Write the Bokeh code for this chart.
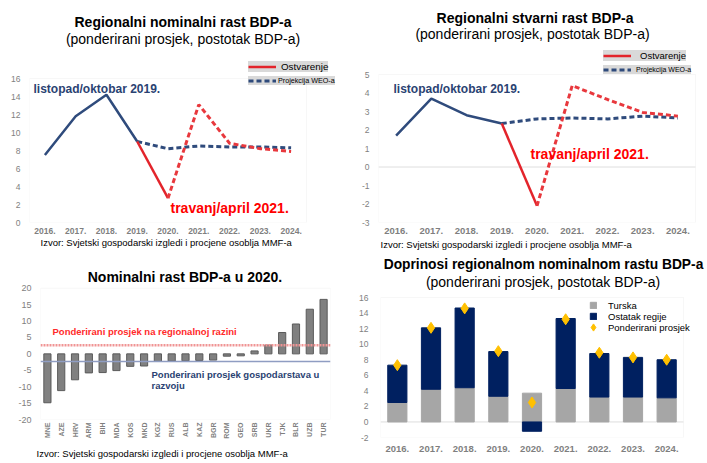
import math
import numpy as np
from bokeh.plotting import figure
from bokeh.models import (Range1d, FixedTicker, Label, Legend, LegendItem, Span,
                          BoxAnnotation, Title)
from bokeh.layouts import column, row
from bokeh.embed import file_html
from bokeh.resources import INLINE

FONT = "Liberation Sans"

# ---------------- data ----------------
years = ["2016.", "2017.", "2018.", "2019.", "2020.", "2021.", "2022.", "2023.", "2024."]

# Regional nominal GDP growth (weighted average, %)
nom_oct19_hist = [7.5, 11.8, 14.2, 9.0]            # 2016-2019 (Oct 2019 WEO)
nom_oct19_proj = [9.0, 8.2, 8.5, 8.4, 8.4, 8.3]    # 2019-2024 projection (Oct 2019)
nom_apr21_hist = [9.0, 2.7]                         # 2019-2020 outturn (Apr 2021)
nom_apr21_proj = [2.7, 13.1, 8.8, 8.2, 7.9]         # 2020-2024 projection (Apr 2021)

# Regional real GDP growth (weighted average, %)
real_oct19_hist = [1.7, 3.7, 2.8, 2.35]
real_oct19_proj = [2.35, 2.6, 2.65, 2.6, 2.75, 2.65]
real_apr21_hist = [2.35, -2.1]
real_apr21_proj = [-2.1, 4.4, 3.65, 2.95, 2.75]

# Nominal GDP growth in 2020 by country
countries = ["MNE", "AZE", "HRV", "ARM", "BIH", "MDA", "KOS", "MKD", "KGZ", "RUS", "ALB",
             "KAZ", "BGR", "ROM", "GEO", "SRB", "UKR", "TJK", "BLR", "UZB", "TUR"]
growth_2020 = [-14.9, -11.2, -7.9, -5.8, -5.7, -5.1, -3.8, -3.7, -2.3, -2.2, -2.1,
               -2.0, -1.9, -0.7, -0.6, 0.9, 2.7, 6.5, 9.1, 13.6, 16.6]
regional_avg_2020 = 2.6
emde_avg_2020 = -2.3

# Contributions to regional nominal growth
turkey_contrib = [2.5, 4.2, 4.4, 3.3, 3.7, 4.3, 3.2, 3.2, 3.1]
rest_contrib = [4.8, 7.9, 10.25, 5.75, -1.2, 9.0, 5.6, 5.1, 4.9]
weighted_avg = [7.3, 12.1, 14.6, 9.1, 2.5, 13.2, 8.9, 8.3, 8.0]

SOURCE = "Izvor: Svjetski gospodarski izgledi i procjene osoblja MMF-a"
SUB = "(ponderirani prosjek, postotak BDP-a)"

NAVY = "#2f4b7c"
NAVY_TXT = "#2a4272"
RED = "#e3242b"
RED_D = "#e8383d"


class Panel:
    """A figure whose frame extends beyond the visible plot box so that
    titles / legends drawn in screen units are not clipped."""

    def __init__(self, labels, yr, yticks, origin, size, borders, box,
                 xfs, yfs, xstand, ystand):
        ox, oy = origin
        w, h = size
        ml, mr, mt, mb = borders
        bl, br, bt, bb = box
        self.FL, self.FB = ox + ml, oy + h - mb
        FR, FT = ox + w - mr, oy + mt
        n = len(labels)
        self.x0, self.x1 = -0.5, n - 0.5
        self.y0, self.y1 = yr
        sx = (br - bl) / (self.x1 - self.x0)
        sy = (bb - bt) / (self.y1 - self.y0)
        xr = Range1d(self.x0 - (bl - self.FL) / sx, self.x1 + (FR - br) / sx)
        yrng = Range1d(self.y0 - (self.FB - bb) / sy, self.y1 + (bt - FT) / sy)
        p = figure(x_range=xr, y_range=yrng, width=w, height=h, title=None,
                   output_backend="svg", toolbar_location=None,
                   min_border_left=ml, min_border_right=mr,
                   min_border_top=mt, min_border_bottom=mb)
        p.frame_align = False
        p.xgrid.visible = False
        p.ygrid.visible = False
        p.outline_line_color = None
        p.background_fill_color = "white"
        p.border_fill_color = "white"
        p.add_layout(BoxAnnotation(left=self.x0, right=self.x1, bottom=self.y0, top=self.y1,
                                   fill_alpha=0, line_color="#e4e4e4", line_width=1,
                                   level="underlay"))
        p.xaxis.ticker = FixedTicker(ticks=list(range(n)))
        p.xaxis.major_label_overrides = {i: lab for i, lab in enumerate(labels)}
        p.yaxis.ticker = FixedTicker(ticks=yticks)
        p.yaxis.major_label_overrides = {v: str(v) for v in yticks}
        for ax, fs, st in ((p.xaxis[0], xfs, xstand), (p.yaxis[0], yfs, ystand)):
            ax.axis_line_color = None
            ax.major_tick_line_color = None
            ax.minor_tick_line_color = None
            ax.major_tick_out = 0
            ax.major_tick_in = 0
            ax.major_label_text_color = "#7f7f7f"
            ax.major_label_text_font = FONT
            ax.major_label_text_font_size = fs
            ax.major_label_standoff = st
        p.xaxis.major_label_text_font_style = "bold"
        self.p = p

    def text(self, X, Y, text, size, color="#000000", bold=False, align="left"):
        self.p.add_layout(Label(x=X - self.FL, y=self.FB - Y, x_units="screen", y_units="screen",
                                text=text, text_font=FONT, text_font_size=size,
                                text_color=color, text_font_style="bold" if bold else "normal",
                                text_align=align, text_baseline="middle"))

    def zero_line(self):
        self.p.segment(x0=self.x0, x1=self.x1, y0=0, y1=0, line_color="#dedede", line_width=1,
                       level="underlay")

    def legend(self, items, X, Ybottom, **kw):
        leg = Legend(items=items, location=(X - self.FL, self.FB - Ybottom),
                     border_line_color=None, spacing=0, margin=0,
                     label_text_font=FONT, label_text_color="#000000", **kw)
        self.p.add_layout(leg)


def line_chart(hist_b, proj_b, hist_r, proj_r, yr, ticks, origin, size, borders, box, xfs,
               title, title_c, sub_c, lab1, lab2, leg_x, leg_yb, leg_fs, leg_st, zero):
    P = Panel(years, yr, ticks, origin, size, borders, box, xfs, "8.5px", 5, 9)
    idx = np.arange(len(years))
    if zero:
        P.zero_line()
    p = P.p
    p.line(x=idx[:4], y=hist_b, line_color=NAVY, line_width=2.5)
    rb = p.line(x=idx[3:], y=proj_b, line_color=NAVY, line_width=3, line_dash="5 3")
    rr = p.line(x=idx[3:5], y=hist_r, line_color=RED, line_width=2.5)
    p.line(x=idx[4:], y=proj_r, line_color=RED_D, line_width=3, line_dash="5 3")
    P.text(title_c[0], title_c[1], title, "14px", bold=True, align="center")
    P.text(sub_c[0], sub_c[1], SUB, "14px", align="center")
    P.text(lab1[0], lab1[1], "listopad/oktobar 2019.", "12px", NAVY_TXT, bold=True)
    P.text(lab2[0], lab2[1], "travanj/april 2021.", "14px", "#ff0000", bold=True)
    common = dict(background_fill_color="#d9d9d9", background_fill_alpha=1.0, padding=2,
                  glyph_width=28, glyph_height=9, label_height=9, label_width=10)
    P.legend([LegendItem(label="Ostvarenje", renderers=[rr])], leg_x, leg_yb,
             label_text_font_size=leg_fs[0], label_standoff=leg_st[0], **common)
    P.legend([LegendItem(label="Projekcija WEO-a", renderers=[rb])], leg_x, leg_yb + 13,
             label_text_font_size=leg_fs[1], label_standoff=leg_st[1], **common)
    return P


# Top-left: nominal
P1 = line_chart(nom_oct19_hist, nom_oct19_proj, nom_apr21_hist, nom_apr21_proj,
                (0, 16), list(range(0, 17, 2)), (0, 0), (353, 238), (29, 0, 0, 16),
                (29, 306, 78, 222), "8.5px", "Regionalni nominalni rast BDP-a",
                (182.5, 21), (182.5, 38), (33, 88), (170, 207), 248, 72,
                ("9.8px", "7.2px"), (5, 2), False)

# Top-right: real
P2 = line_chart(real_oct19_hist, real_oct19_proj, real_apr21_hist, real_apr21_proj,
                (-3, 5), list(range(-3, 6)), (353, 0), (354, 238), (25, 0, 0, 16),
                (378, 695, 74, 222), "9.5px", "Regionalni stvarni rast BDP-a",
                (534.5, 17), (532, 33), (393, 88), (530, 153), 603, 61,
                ("9.5px", "7px"), (9, 5), True)

# Bottom-left: nominal growth 2020 by country
P3 = Panel(countries, (-20, 20), list(range(-20, 21, 5)), (0, 238), (353, 225),
           (40, 23, 0, 43), (40, 330, 288, 420), "7px", "9px", 3, 9)
p3 = P3.p
p3.xaxis.major_label_orientation = math.pi / 2
p3.vbar(x=np.arange(len(countries)), top=growth_2020, bottom=0, width=0.52,
        fill_color="#808080", line_color="#5a5a5a", line_width=1)
p3.add_layout(Span(location=regional_avg_2020, dimension="width", line_color="#f09494",
                   line_width=2.5, line_dash="2 1"))
p3.add_layout(Span(location=emde_avg_2020, dimension="width", line_color="#8f9dc2",
                   line_width=1.5))
P3.text(40, 243, SOURCE, "9.5px")
P3.text(184.5, 277, "Nominalni rast BDP-a u 2020.", "14px", bold=True, align="center")
P3.text(52, 332, "Ponderirani prosjek na regionalnoj razini", "9.5px", "#ff2a2a", bold=True)
P3.text(151, 375, "Ponderirani prosjek gospodarstava u", "9.5px", NAVY_TXT, bold=True)
P3.text(151, 386, "razvoju", "9.5px", NAVY_TXT, bold=True)
p3.add_layout(Title(text=SOURCE, align="left", offset=-4, standoff=9, text_font=FONT,
                    text_font_size="9.5px", text_font_style="normal", text_color="#000000"),
              "below")

# Bottom-right: contributions
t = np.array(turkey_contrib)
r = np.array(rest_contrib)
rest_bottom = np.where(r >= 0, t, 0.0)
rest_top = rest_bottom + r
idx = np.arange(len(years))

P4 = Panel(years, (-2, 16), list(range(-2, 17, 2)), (353, 238), (354, 225),
           (27, 0, 0, 26), (380, 683, 297, 437), "9.5px", "8.5px", 8, 12)
p4 = P4.p
P4.zero_line()
rt = p4.vbar(x=idx, top=t, bottom=0, width=0.57, fill_color="#a6a6a6", line_color="#a6a6a6")
ro = p4.vbar(x=idx, top=rest_top, bottom=rest_bottom, width=0.57,
             fill_color="#002060", line_color="#002060")
rd = p4.scatter(x=idx, y=weighted_avg, marker="diamond", size=11,
                fill_color="#ffc000", line_color="#ffc000")
P4.legend([LegendItem(label="Turska", renderers=[rt]),
           LegendItem(label="Ostatak regije", renderers=[ro])],
          589, 321.5, background_fill_alpha=0, padding=0, glyph_width=8, glyph_height=8,
          label_height=11, label_width=10, label_standoff=11, label_text_font_size="9.5px")
P4.legend([LegendItem(label="Ponderirani prosjek", renderers=[rd])],
          584, 336, background_fill_alpha=0, padding=0, glyph_width=18, glyph_height=18,
          label_height=11, label_width=10, label_standoff=6, label_text_font_size="9.5px")
P4.text(380, 244, SOURCE, "9.5px")
P4.text(543, 264, "Doprinosi regionalnom nominalnom rastu BDP-a", "13.8px", bold=True,
        align="center")
P4.text(542.5, 281, SUB, "14px", align="center")

layout = column(row(P1.p, P2.p), row(P3.p, P4.p))
open("out.html", "w").write(file_html(layout, INLINE))
